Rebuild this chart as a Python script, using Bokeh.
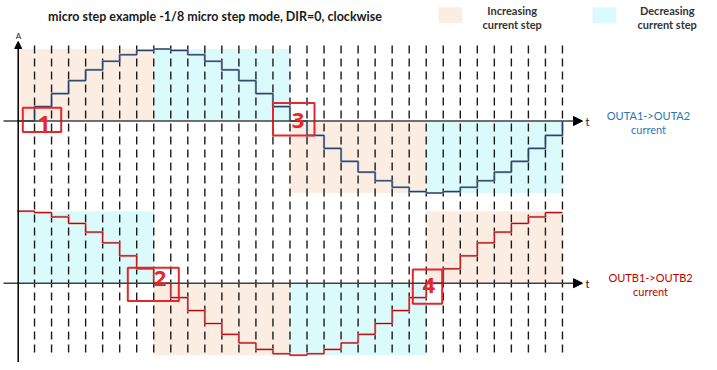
from bokeh.plotting import figure
from bokeh.models import Range1d, Arrow, NormalHead, Label
from bokeh.embed import file_html
from bokeh.resources import INLINE

# ---- data ----
steps = list(range(33))            # micro-step boundaries (t units)
grid_t = list(range(1, 33))        # dashed step markers
outa = [0, 0.2, 0.38, 0.56, 0.71, 0.83, 0.92, 0.98, 1.0, 0.98, 0.92, 0.83, 0.71, 0.56, 0.38, 0.2,
        0, -0.2, -0.38, -0.56, -0.71, -0.83, -0.92, -0.98, -1.0, -0.98, -0.92, -0.83, -0.71, -0.56, -0.38, -0.2]
outa_end = 0
outb = [1.0, 0.98, 0.92, 0.83, 0.71, 0.56, 0.38, 0.2, 0, -0.2, -0.38, -0.56, -0.71, -0.83, -0.92, -0.98,
        -1.0, -0.98, -0.92, -0.83, -0.71, -0.56, -0.38, -0.2, 0, 0.2, 0.38, 0.56, 0.71, 0.83, 0.92, 0.98]
outb_end = 0.98
seg_left = [0, 8, 16, 24]
seg_right = [8, 16, 24, 32]
a_sign = [1, 1, -1, -1]
b_sign = [1, -1, -1, 1]
a_kind = ["inc", "dec", "inc", "dec"]
b_kind = ["dec", "inc", "dec", "inc"]
markers = ["1", "2", "3", "4"]

PEACH = "#FCEDE3"
CYAN = "#DAFAFB"
kind_color = {"inc": PEACH, "dec": CYAN}

# ---- geometry helpers (picture px -> data) ----
X0, DX = 17.0, 17.03
Y0, UNIT = 120.5, 72.0
B_OFF = (Y0 - 282.7) / UNIT


def X(sx):
    return (sx - X0) / DX


def Y(sy):
    return (Y0 - sy) / UNIT


W, H = 709, 362
p = figure(width=W, height=H, x_range=Range1d(X(0), X(W)), y_range=Range1d(Y(H), Y(0)),
           output_backend="svg", toolbar_location=None, x_axis_type=None, y_axis_type=None,
           min_border=0, outline_line_color=None, background_fill_color="white")
p.xgrid.visible = False
p.ygrid.visible = False

# shaded regions
p.quad(left=seg_left, right=seg_right, bottom=[min(0, s) for s in a_sign], top=[max(0, s) for s in a_sign],
       fill_color=[kind_color[k] for k in a_kind], line_color=None)
p.quad(left=seg_left, right=seg_right, bottom=[min(0, s) + B_OFF for s in b_sign],
       top=[max(0, s) + B_OFF for s in b_sign],
       fill_color=[kind_color[k] for k in b_kind], line_color=None)

# dashed step markers
p.segment(x0=grid_t, y0=[Y(45)] * len(grid_t), x1=grid_t, y1=[Y(357)] * len(grid_t),
          line_color="#1a1a1a", line_width=1.4, line_dash="8 5")

# axes with arrows
for yz in (0, B_OFF):
    p.add_layout(Arrow(end=NormalHead(size=9, fill_color="black", line_color="black", line_width=1),
                       x_start=X(3), y_start=yz, x_end=X(582), y_end=yz,
                       line_color="#404040", line_width=1.5))
    p.add_layout(Label(x=X(585), y=yz, text="t", text_font="Lato", text_font_size="11px",
                       text_color="#222222", text_baseline="middle", text_align="left"))
p.add_layout(Arrow(end=NormalHead(size=7, fill_color="black", line_color="black", line_width=1),
                   x_start=X(17.7), y_start=Y(362), x_end=X(17.7), y_end=Y(41),
                   line_color="black", line_width=1.5))
p.add_layout(Label(x=X(18), y=Y(35), text="A", text_font="Lato", text_font_size="8px",
                   text_color="#222222", text_baseline="middle", text_align="center"))

# current steps
ya = outa + [outa_end]
yb = [v + B_OFF for v in outb + [outb_end]]
p.step(x=steps, y=ya, mode="after", line_color="#8A9CB5", line_width=2.2)
p.step(x=steps, y=ya, mode="after", line_color="#1F3A60", line_width=1.0)
p.step(x=steps, y=yb, mode="after", line_color="#E59A9A", line_width=2.2)
p.step(x=steps, y=yb, mode="after", line_color="#B00000", line_width=1.0)

# numbered boxes
boxes = [(22.3, 60.7, 107.3, 131.5), (127.3, 178.3, 267.3, 300.5), (272.5, 314, 102.5, 135), (412.3, 441.7, 269, 303.3)]
num_pos = [(43.5, 123), (159.5, 278), (297.5, 120), (428.3, 285)]
p.quad(left=[X(b[0]) for b in boxes], right=[X(b[1]) for b in boxes],
       bottom=[Y(b[3]) for b in boxes], top=[Y(b[2]) for b in boxes],
       fill_color=None, line_color="#E8242C", line_width=2)
for m, (nx, ny) in zip(markers, num_pos):
    p.add_layout(Label(x=X(nx), y=Y(ny), text=m, text_font="Noto Sans", text_font_style="bold",
                       text_font_size="22px", text_color="#E8242C", text_align="center",
                       text_baseline="middle"))

# title
p.add_layout(Label(x=X(214.5), y=Y(16), text="micro step example -1/8 micro step mode, DIR=0, clockwise",
                   text_font="Lato", text_font_style="bold", text_font_size="12.5px", text_color="#1a1a1a",
                   text_align="center", text_baseline="middle"))

# legend
p.quad(left=[X(438), X(592)], right=[X(461.7), X(615.7)], bottom=[Y(22.7)] * 2, top=[Y(6.7)] * 2,
       fill_color=[PEACH, CYAN], line_color=None)
for cx, l1 in ((511.7, "Increasing"), (666.7, "Decreasing")):
    p.add_layout(Label(x=X(cx), y=Y(10), text=l1, text_font="Lato", text_font_style="bold",
                       text_font_size="11px", text_color="#333333", text_align="center", text_baseline="middle"))
    p.add_layout(Label(x=X(cx), y=Y(24), text="current step", text_font="Lato", text_font_style="bold",
                       text_font_size="11px", text_color="#333333", text_align="center", text_baseline="middle"))

# series labels
for cx, y1, y2, t1, col in ((648, 115, 128.5, "OUTA1->OUTA2", "#2E74B5"),
                            (650, 276.7, 290.7, "OUTB1->OUTB2", "#C00000")):
    p.add_layout(Label(x=X(cx), y=Y(y1), text=t1, text_font="Lato", text_font_size="11px",
                       text_color=col, text_align="center", text_baseline="middle"))
    p.add_layout(Label(x=X(cx), y=Y(y2), text="current", text_font="Lato", text_font_size="11px",
                       text_color=col, text_align="center", text_baseline="middle"))

open("out.html", "w").write(file_html(p, INLINE))
